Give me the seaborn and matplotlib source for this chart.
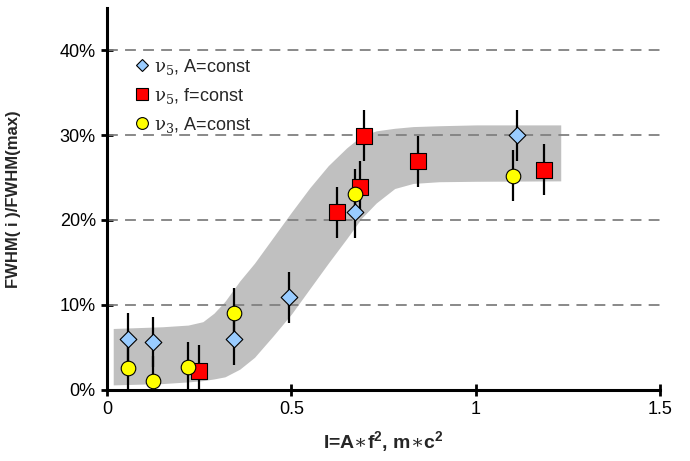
import matplotlib
matplotlib.use("Agg")
import matplotlib.pyplot as plt
from matplotlib.lines import Line2D
import seaborn as sns
import pandas as pd

# ---- data ----
x_d = [0.056, 0.124, 0.344, 0.494, 0.673, 1.111]
y_d = [6.0, 5.6, 5.9, 10.9, 20.9, 30.0]
x_s = [0.250, 0.623, 0.686, 0.698, 0.842, 1.185]
y_s = [2.2, 20.9, 23.9, 29.9, 26.9, 25.9]
x_c = [0.056, 0.124, 0.220, 0.344, 0.673, 1.102]
y_c = [2.5, 0.95, 2.6, 9.0, 23.0, 25.2]
err = 3.0

band_x = [0.017, 0.15, 0.22, 0.26, 0.29, 0.32, 0.36, 0.40, 0.45, 0.50,
          0.55, 0.60, 0.65, 0.69, 0.73, 0.78, 0.83, 0.90, 1.00, 1.23]
band_hi = [7.2, 7.4, 7.6, 8.0, 9.0, 10.4, 12.8, 14.9, 17.9, 20.9,
           23.8, 26.4, 28.5, 29.9, 30.5, 30.8, 31.0, 31.1, 31.2, 31.2]
band_lo = [0.55, 0.7, 0.9, 1.05, 1.25, 1.5, 2.4, 3.8, 6.3, 8.9,
           11.9, 14.9, 17.8, 20.2, 22.0, 23.7, 24.3, 24.5, 24.55, 24.6]

labels = [r"$\nu_5$, A=const", r"$\nu_5$, f=const", r"$\nu_3$, A=const"]
xticks = [0, 0.5, 1, 1.5]
xticklabels = ["0", "0.5", "1", "1.5"]
yticks = [0, 10, 20, 30, 40]
yticklabels = ["0%", "10%", "20%", "30%", "40%"]

sns.set_style("ticks")
plt.rcParams["font.family"] = ["Liberation Sans", "DejaVu Sans"]
plt.rcParams["mathtext.fontset"] = "custom"
plt.rcParams["mathtext.rm"] = "DejaVu Serif"
plt.rcParams["mathtext.it"] = "DejaVu Serif"
plt.rcParams["mathtext.bf"] = "Liberation Sans:bold"
plt.rcParams["mathtext.default"] = "rm"

fig = plt.figure(figsize=(6.9, 4.61), dpi=100)
ax = fig.add_axes([0.155, 0.155, 0.802, 0.828])

# band
ax.fill_between(band_x, band_lo, band_hi, color="#C0C0C0", lw=0, zorder=1)

# grid
for yv in yticks[1:]:
    ax.axhline(yv, color="#808080", lw=1.3, ls=(0, (6, 4)), zorder=1.5)

# error bars
for xs, ys in [(x_d, y_d), (x_s, y_s), (x_c, y_c)]:
    ax.errorbar(xs, ys, yerr=err, fmt="none", ecolor="black", elinewidth=1.6,
                capsize=0, zorder=2)

df_s = pd.DataFrame({"x": x_s, "y": y_s})
df_d = pd.DataFrame({"x": x_d, "y": y_d})
df_c = pd.DataFrame({"x": x_c, "y": y_c})
sns.scatterplot(data=df_s, x="x", y="y", marker="s", s=125, color="#FF0000",
                edgecolor="black", linewidth=0.8, ax=ax, zorder=3)
sns.scatterplot(data=df_d, x="x", y="y", marker="D", s=72, color="#99CCFF",
                edgecolor="black", linewidth=0.8, ax=ax, zorder=3)
sns.scatterplot(data=df_c, x="x", y="y", marker="o", s=110, color="#FFFF00",
                edgecolor="black", linewidth=0.8, ax=ax, zorder=3)

ax.set_xlim(0, 1.5)
ax.set_ylim(0, 45)
ax.set_xticks(xticks)
ax.set_xticklabels(xticklabels)
ax.set_yticks(yticks)
ax.set_yticklabels(yticklabels)
ax.tick_params(axis="both", direction="inout", length=8, width=2,
               labelsize=13, colors="black", pad=4)
for side in ["top", "right"]:
    ax.spines[side].set_visible(False)
for side in ["left", "bottom"]:
    ax.spines[side].set_linewidth(2.2)
    ax.spines[side].set_color("black")

ax.set_xlabel(r"I=A$\ast$f$^{\mathbf{2}}$, m$\ast$c$^{\mathbf{2}}$", fontsize=14,
              fontweight="bold", labelpad=8)
ax.set_ylabel("FWHM( i )/FWHM(max)", fontsize=12, fontweight="bold", labelpad=28)

handles = [
    Line2D([], [], ls="none", marker="D", markersize=6.5, markerfacecolor="#99CCFF",
           markeredgecolor="black", markeredgewidth=0.8),
    Line2D([], [], ls="none", marker="s", markersize=8.5, markerfacecolor="#FF0000",
           markeredgecolor="black", markeredgewidth=0.8),
    Line2D([], [], ls="none", marker="o", markersize=8.5, markerfacecolor="#FFFF00",
           markeredgecolor="black", markeredgewidth=0.8),
]
ax.legend(handles, labels, loc="upper left", bbox_to_anchor=(0.027, 0.905),
          frameon=False, fontsize=13, handlelength=0.8, handletextpad=0.3,
          labelspacing=0.5, borderaxespad=0.3)

fig.savefig("out.png", dpi=100)
